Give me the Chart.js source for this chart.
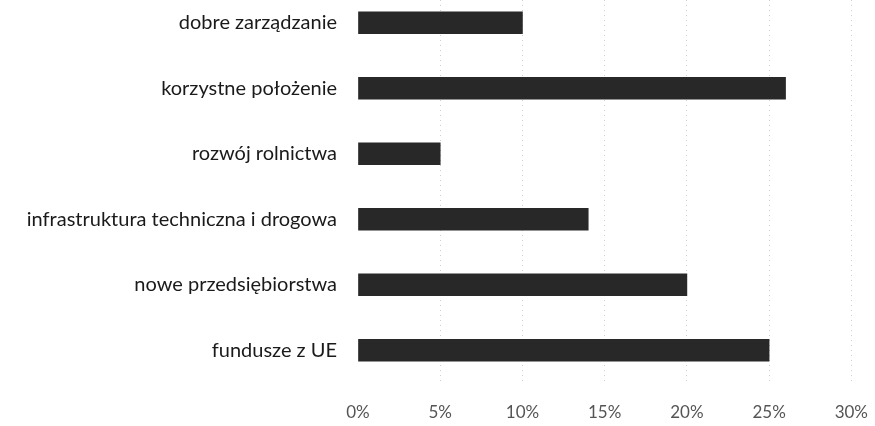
<!DOCTYPE html>
<html>
<head>
<meta charset="utf-8">
<script src="https://cdn.jsdelivr.net/npm/chart.js@4/dist/chart.umd.min.js"></script>
<style>
  html, body { margin: 0; padding: 0; background: #fff; overflow: hidden; }
  #wrap { position: relative; width: 875px; height: 426px; overflow: hidden; }
  #wrap canvas { position: absolute; left: 0; top: -43px; }
</style>
</head>
<body>
<div id="wrap"><canvas id="c" width="887" height="469"></canvas></div>
<script>
const categories = [
  "dobre zarządzanie",
  "korzystne położenie",
  "rozwój rolnictwa",
  "infrastruktura techniczna i drogowa",
  "nowe przedsiębiorstwa",
  "fundusze z UE"
];
const values = [10, 26, 5, 14, 20, 25];
const tickValues = [0, 5, 10, 15, 20, 25, 30];

const ctx = document.getElementById('c').getContext('2d');
new Chart(ctx, {
  type: 'bar',
  data: {
    labels: categories,
    datasets: [{
      data: values,
      backgroundColor: '#282828',
      borderWidth: 0,
      barThickness: 22
    }]
  },
  options: {
    indexAxis: 'y',
    responsive: false,
    animation: false,
    layout: { padding: { top: 0, right: 10, bottom: 0, left: 0 } },
    plugins: { legend: { display: false }, tooltip: { enabled: false } },
    scales: {
      x: {
        min: 0, max: 30,
        afterBuildTicks: (s) => { s.ticks = tickValues.map(v => ({ value: v })); },
        afterFit: (s) => { s.height = 43; },
        ticks: {
          padding: 19,
          color: '#555',
          font: { family: 'Lato', size: 17 },
          callback: (v) => v + '%'
        },
        grid: {
          color: (c) => c.tick && c.tick.value === 0 ? 'rgba(0,0,0,0)' : '#cfcfcf',
          lineWidth: 1,
          drawTicks: false
        },
        border: { display: false, dash: [1, 4] }
      },
      y: {
        afterFit: (s) => { s.width = 358; },
        ticks: {
          padding: 21,
          color: '#1a1a1a',
          font: { family: 'Lato', size: 20 }
        },
        grid: { display: false, drawTicks: false },
        border: { display: false }
      }
    }
  }
});
</script>
</body>
</html>
